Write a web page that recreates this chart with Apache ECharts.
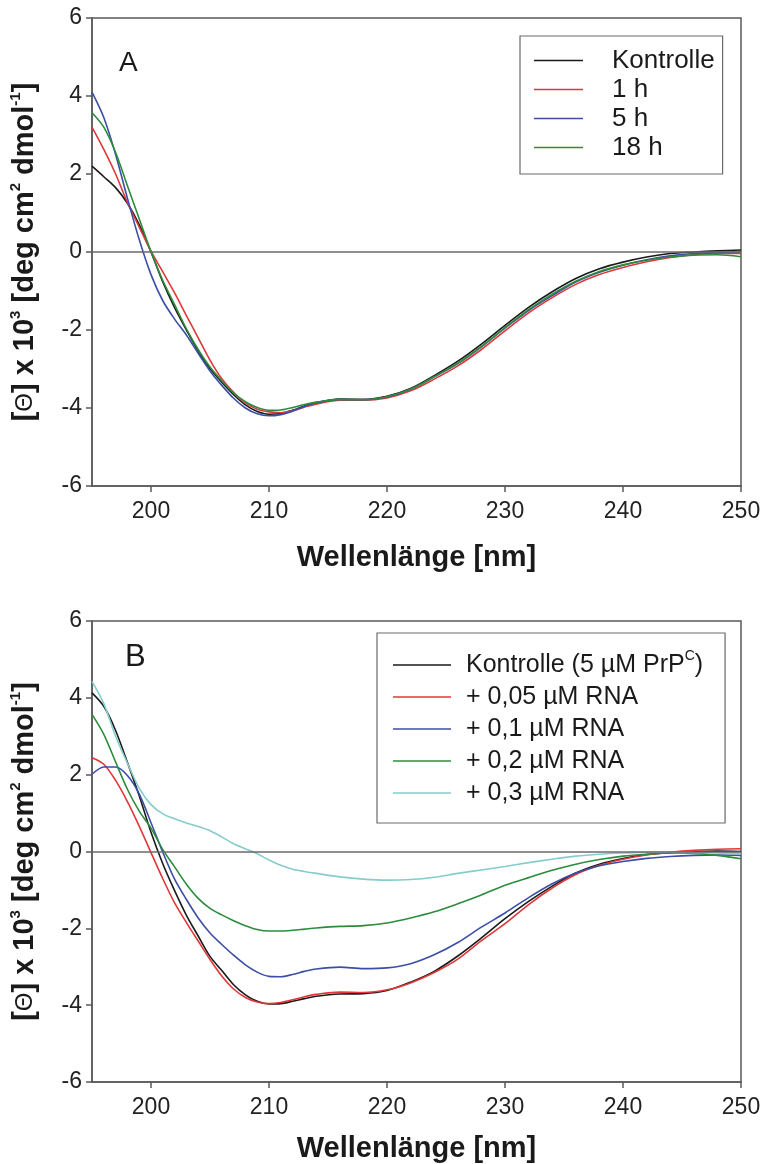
<!DOCTYPE html>
<html>
<head>
<meta charset="utf-8">
<script src="https://cdn.jsdelivr.net/npm/echarts@6/dist/echarts.min.js"></script>
<style>
html,body{margin:0;padding:0;background:#fff;}
#main{width:765px;height:1164px;}
</style>
</head>
<body>
<div id="main"></div>
<script>
// CD-Spektren, Panel A (Zeitverlauf) und Panel B (RNA-Titration)
var FONT = '"Liberation Sans", Arial, sans-serif';

var wl = [195,196,197,198,199,200,201,202,203,204,205,206,207,208,209,210,211,212,213,
          214,216,218,220,222,224,226,228,230,232,234,236,238,240,242,244,246,248,250];

// Panel A
var namesA = ['Kontrolle', '1 h', '5 h', '18 h'];
var colorsA = ['#1a1a1a', '#e0383a', '#3c4ea6', '#2c8c3c'];
var kontrolleA = [2.2,1.93,1.65,1.25,0.7,0.0,-0.77,-1.43,-2.0,-2.54,-2.99,-3.34,-3.66,-3.92,-4.09,-4.16,-4.14,-4.06,-3.95,
                  -3.86,-3.77,-3.78,-3.7,-3.5,-3.17,-2.8,-2.36,-1.88,-1.42,-1.02,-0.68,-0.43,-0.26,-0.13,-0.04,0.0,0.03,0.05];
var h1A = [3.2,2.63,2.0,1.27,0.64,0.02,-0.51,-1.05,-1.63,-2.2,-2.77,-3.25,-3.6,-3.87,-4.03,-4.1,-4.12,-4.07,-3.98,
           -3.9,-3.8,-3.8,-3.74,-3.56,-3.26,-2.92,-2.5,-2.02,-1.56,-1.17,-0.83,-0.58,-0.4,-0.25,-0.14,-0.07,-0.04,-0.04];
var h5A = [4.1,3.45,2.5,1.38,0.32,-0.58,-1.25,-1.72,-2.13,-2.6,-3.05,-3.42,-3.75,-4.0,-4.15,-4.2,-4.17,-4.08,-3.96,
           -3.87,-3.78,-3.79,-3.72,-3.52,-3.2,-2.86,-2.43,-1.95,-1.5,-1.12,-0.77,-0.52,-0.34,-0.2,-0.1,-0.04,-0.01,0.0];
var h18A = [3.57,3.2,2.55,1.7,0.85,0.01,-0.73,-1.35,-1.97,-2.5,-2.95,-3.3,-3.62,-3.84,-3.99,-4.06,-4.05,-3.99,-3.91,
            -3.85,-3.78,-3.79,-3.71,-3.52,-3.2,-2.85,-2.42,-1.94,-1.48,-1.08,-0.75,-0.5,-0.33,-0.21,-0.13,-0.08,-0.07,-0.12];

// Panel B
var namesB = ['Kontrolle (5 µM PrPC)', '+ 0,05 µM RNA', '+ 0,1 µM RNA', '+ 0,2 µM RNA', '+ 0,3 µM RNA'];
var colorsB = ['#1a1a1a', '#e0383a', '#3c4ea6', '#2c8c3c', '#86cccc'];
var kontrolleB = [4.13,3.78,3.15,2.32,1.45,0.5,-0.32,-1.02,-1.66,-2.2,-2.73,-3.1,-3.47,-3.73,-3.9,-3.97,-3.96,-3.9,-3.83,
                  -3.77,-3.71,-3.7,-3.62,-3.4,-3.12,-2.72,-2.25,-1.75,-1.3,-0.9,-0.56,-0.33,-0.18,-0.08,-0.03,0.0,0.01,0.0];
var rna005 = [2.44,2.27,1.85,1.3,0.66,-0.03,-0.71,-1.34,-1.85,-2.33,-2.81,-3.24,-3.58,-3.8,-3.92,-3.96,-3.93,-3.86,-3.78,
              -3.72,-3.66,-3.67,-3.6,-3.42,-3.15,-2.8,-2.32,-1.88,-1.38,-0.95,-0.6,-0.36,-0.2,-0.09,-0.02,0.03,0.06,0.07];
var rna01 = [2.01,2.2,2.2,1.98,1.5,0.75,-0.02,-0.72,-1.25,-1.73,-2.12,-2.42,-2.7,-2.95,-3.14,-3.25,-3.26,-3.2,-3.12,
             -3.06,-3.01,-3.05,-3.03,-2.92,-2.69,-2.37,-1.97,-1.6,-1.2,-0.84,-0.56,-0.37,-0.26,-0.18,-0.13,-0.1,-0.09,-0.1];
var rna02 = [3.57,3.05,2.33,1.62,1.05,0.61,0.05,-0.4,-0.85,-1.22,-1.48,-1.65,-1.8,-1.93,-2.03,-2.07,-2.07,-2.05,-2.02,
             -1.99,-1.95,-1.93,-1.86,-1.73,-1.57,-1.36,-1.13,-0.88,-0.68,-0.49,-0.33,-0.21,-0.12,-0.07,-0.04,-0.05,-0.1,-0.19];
var rna03 = [4.43,3.85,3.0,2.3,1.65,1.22,0.98,0.85,0.74,0.65,0.54,0.38,0.2,0.07,-0.06,-0.22,-0.36,-0.46,-0.52,
             -0.57,-0.66,-0.72,-0.745,-0.73,-0.67,-0.57,-0.48,-0.39,-0.29,-0.2,-0.12,-0.07,-0.04,-0.02,-0.02,-0.03,-0.04,-0.06];

var xTicks = [200, 210, 220, 230, 240, 250];

function pairs(ys){
	var out = [];
	for(var i=0;i<wl.length;i++){
		out.push([wl[i], ys[i]]);
	}
	return out;
}

var axisColor = '#5a5a5a';
var yTitle = '[{th|Θ}] x 10{sup|3} [deg cm{sup|2} dmol{sup|-1}]';

function makeX(idx, gap){
	return {
		type: 'value', gridIndex: idx, min: 195, max: 250,
		name: 'Wellenlänge [nm]', nameLocation: 'middle', nameGap: gap,
		nameTextStyle: {fontFamily: FONT, fontSize: 29, fontWeight: 'bold', color: '#1a1a1a'},
		axisLine: {onZero: false, lineStyle: {color: axisColor, width: 1.5}},
		axisTick: {customValues: xTicks, length: 6, lineStyle: {color: axisColor, width: 1.5}},
		axisLabel: {customValues: xTicks, margin: 14, fontFamily: FONT, fontSize: 23, color: '#222'},
		splitLine: {show: false}
	};
}

function makeY(idx){
	return {
		type: 'value', gridIndex: idx, min: -6, max: 6, interval: 2,
		name: yTitle, nameLocation: 'middle', nameRotate: 90, nameGap: 50,
		nameTextStyle: {
			fontFamily: FONT, fontSize: 29, fontWeight: 'bold', color: '#1a1a1a', lineHeight: 34,
			rich: {
				sup: {fontFamily: FONT, fontSize: 15, fontWeight: 'bold', color: '#1a1a1a', verticalAlign: 'top', lineHeight: 20},
				th: {fontFamily: FONT, fontSize: 24, fontWeight: 'normal', color: '#1a1a1a', lineHeight: 34}
			}
		},
		axisLine: {onZero: false, lineStyle: {color: axisColor, width: 1.5}},
		axisTick: {length: 6, lineStyle: {color: axisColor, width: 1.5}},
		axisLabel: {margin: 10, fontFamily: FONT, fontSize: 23, color: '#222'},
		splitLine: {show: false}
	};
}

function makeSeries(name, ys, color, idx, zero){
	var s = {
		name: name, type: 'line', xAxisIndex: idx, yAxisIndex: idx,
		data: pairs(ys), smooth: 0.3, symbol: 'none',
		lineStyle: {color: color, width: 1.6}, itemStyle: {color: color}
	};
	if(zero){
		// waagerechte Nulllinie
		s.markLine = {
			silent: true, symbol: ['none', 'none'], label: {show: false},
			lineStyle: {color: '#6a6a6a', width: 1.5, type: 'solid'},
			data: [{yAxis: 0}]
		};
	}
	return s;
}

var seriesA = [kontrolleA, h1A, h5A, h18A];
var seriesB = [kontrolleB, rna005, rna01, rna02, rna03];
var series = [];
for(var i=0;i<seriesA.length;i++){
	series.push(makeSeries(namesA[i], seriesA[i], colorsA[i], 0, i==0));
}
for(var j=0;j<seriesB.length;j++){
	series.push(makeSeries(namesB[j], seriesB[j], colorsB[j], 1, j==0));
}

var myChart = echarts.init(document.getElementById('main'));
var option = {
	animation: false,
	backgroundColor: '#fff',
	grid: [
		{left: 91, right: 24, top: 18, height: 468, show: true, borderColor: axisColor, borderWidth: 1.5, containLabel: false},
		{left: 91, right: 24, top: 621, height: 464, show: true, borderColor: axisColor, borderWidth: 1.5, containLabel: false}
	],
	xAxis: [makeX(0, 57), makeX(1, 52)],
	yAxis: [makeY(0), makeY(1)],
	legend: [
		{
			data: namesA, orient: 'vertical', left: 520, top: 36,
			icon: 'rect', itemWidth: 49, itemHeight: 1.6, itemGap: 0,
			padding: [10, 8, 12, 14],
			borderColor: '#6a6a6a', borderWidth: 1.2,
			textStyle: {fontFamily: FONT, fontSize: 26, color: '#1a1a1a', lineHeight: 29, padding: [0, 0, 0, 24]}
		},
		{
			data: namesB, orient: 'vertical', left: 377, top: 633,
			icon: 'rect', itemWidth: 58, itemHeight: 1.6, itemGap: 0,
			padding: [16, 22, 14, 16],
			borderColor: '#6a6a6a', borderWidth: 1.2,
			formatter: function(name){
				if(name == namesB[0]){
					return 'Kontrolle (5 µM PrP{sup|C})';
				}
				return name;
			},
			textStyle: {
				fontFamily: FONT, fontSize: 25, color: '#1a1a1a', lineHeight: 32, padding: [0, 0, 0, 10],
				rich: {
					sup: {fontFamily: FONT, fontSize: 14, color: '#1a1a1a', verticalAlign: 'top', lineHeight: 24}
				}
			}
		}
	],
	graphic: [
		{type: 'text', left: 119, top: 49, style: {text: 'A', fontFamily: FONT, fontSize: 28, fill: '#1a1a1a'}},
		{type: 'text', left: 125, top: 642, style: {text: 'B', fontFamily: FONT, fontSize: 31, fill: '#1a1a1a'}}
	],
	series: series
};
myChart.setOption(option);
</script>
</body>
</html>
